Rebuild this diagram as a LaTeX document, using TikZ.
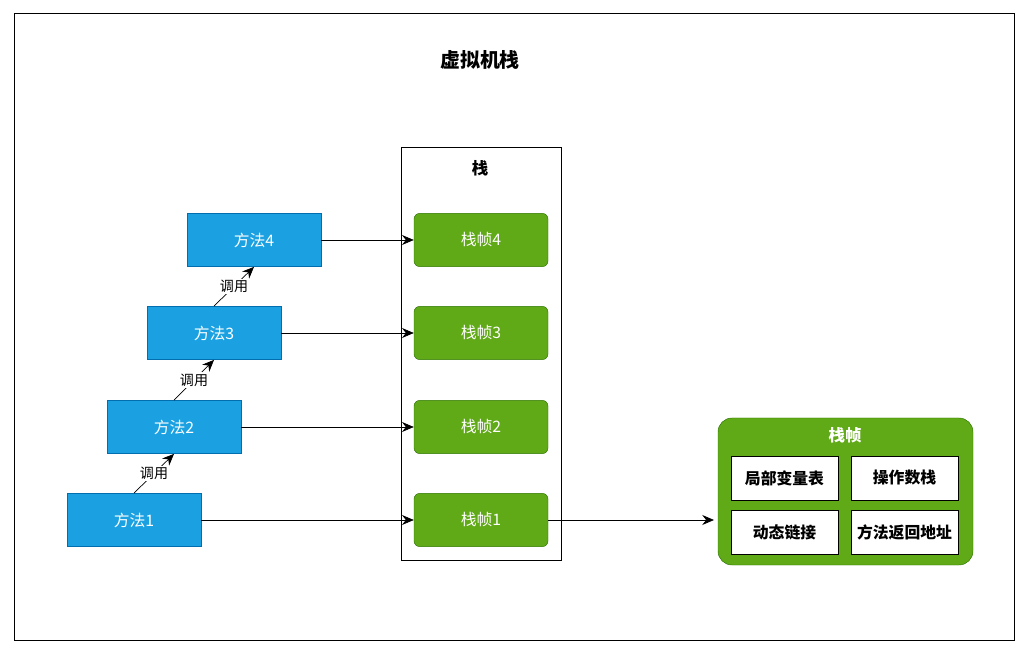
\documentclass[tikz,border=0pt]{standalone}
\usepackage{fontspec}
\setmainfont{Noto Sans CJK SC}
\usetikzlibrary{positioning,arrows.meta}
\definecolor{methodblue}{HTML}{1BA1E2}
\definecolor{methodline}{HTML}{006EAF}
\definecolor{framegreen}{HTML}{60A917}
\definecolor{frameline}{HTML}{2D7600}

\begin{document}
\begin{tikzpicture}[x=0.03cm,y=-0.03cm,
    method/.style={draw=methodline,fill=methodblue,text=white,minimum width=4.02cm,minimum height=1.6cm,inner sep=0pt,font=\fontsize{13.5}{16}\selectfont},
    frame/.style={draw=frameline,fill=framegreen,text=white,rounded corners=5pt,minimum width=4.02cm,minimum height=1.6cm,inner sep=0pt,font=\fontsize{13.5}{16}\selectfont},
    part/.style={draw=black,fill=white,minimum width=3.2cm,minimum height=1.32cm,inner sep=0pt,font=\bfseries\fontsize{13.5}{16}\selectfont},
    link/.style={-{Stealth[length=10pt,width=8.5pt]},semithick}]
        \useasboundingbox (0,0) rectangle (1028,656);
        \draw[semithick] (14,13) rectangle (1014,640);
        \node[font=\bfseries\fontsize{17}{20}\selectfont] (title) at (480,60) {虚拟机栈};

        \draw[semithick] (401,147) rectangle (561,560);
        \node[font=\bfseries\fontsize{14}{16}\selectfont] (stack) at (480,168) {栈};

        \node[frame] (f4) at (481,240) {栈帧4};
        \node[frame] (f3) at (481,333) {栈帧3};
        \node[frame] (f2) at (481,427) {栈帧2};
        \node[frame] (f1) at (481,520) {栈帧1};

        \node[method] (m4) at (254,240) {方法4};
        \node[method] (m3) at (214,333) {方法3};
        \node[method] (m2) at (174,427) {方法2};
        \node[method] (m1) at (134,520) {方法1};

        \draw[link] (m1) -- (f1);
        \draw[link] (m2) -- (f2);
        \draw[link] (m3) -- (f3);
        \draw[link] (m4) -- (f4);

        \draw[link] (m1.north) -- node[fill=white,inner sep=1pt,font=\fontsize{12}{14}\selectfont] {调用} (m2.south);
        \draw[link] (m2.north) -- node[fill=white,inner sep=1pt,font=\fontsize{12}{14}\selectfont] {调用} (m3.south);
        \draw[link] (m3.north) -- node[fill=white,inner sep=1pt,font=\fontsize{12}{14}\selectfont] {调用} (m4.south);

        % frame detail
        \node[draw=frameline,fill=framegreen,rounded corners=12pt,minimum width=7.65cm,minimum height=4.41cm] (detail) at (845.5,491.5) {};
        \node[text=white,font=\bfseries\fontsize{14}{16}\selectfont] (dtitle) at (845,435) {栈帧};
        \node[part] (locals) at (784.5,478) {局部变量表};
        \node[part] (operand) at (904.5,478) {操作数栈};
        \node[part] (dynlink) at (784.5,532.5) {动态链接};
        \node[part] (retaddr) at (904.5,532.5) {方法返回地址};
        \coordinate (dentry) at (714,520);
        \draw[link] (f1.east) -- (dentry);
    \end{tikzpicture}
\end{document}
